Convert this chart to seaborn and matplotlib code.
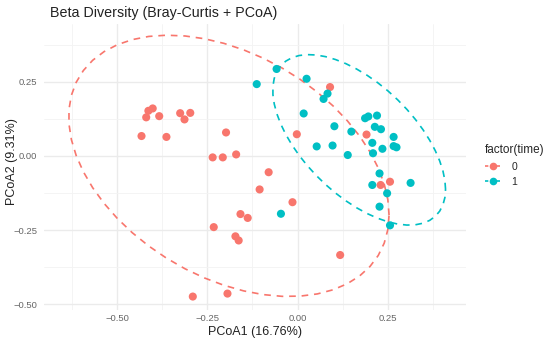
import numpy as np
import pandas as pd
import matplotlib
matplotlib.use("Agg")
import matplotlib.pyplot as plt
import seaborn as sns
from matplotlib.lines import Line2D

# PCoA scores
pc1_t0 = [-0.432, -0.419, -0.413, -0.401, -0.383, -0.363, -0.325, -0.313, -0.297, -0.198,
          -0.235, -0.207, -0.170, -0.080, -0.105, -0.002, 0.090, 0.191, 0.230, 0.256,
          -0.014, -0.158, -0.138, -0.232, -0.172, -0.163, 0.118, -0.194, -0.290]
pc2_t0 = [0.067, 0.130, 0.152, 0.160, 0.134, 0.064, 0.144, 0.123, 0.145, 0.079,
          -0.005, -0.005, 0.005, -0.055, -0.113, 0.073, 0.232, 0.072, -0.098, -0.087,
          -0.156, -0.196, -0.209, -0.240, -0.271, -0.285, -0.334, -0.464, -0.474]
pc1_t1 = [-0.058, -0.113, 0.025, 0.083, 0.072, 0.017, 0.102, 0.149, 0.053, 0.097,
          0.139, 0.187, 0.196, 0.220, 0.214, 0.231, 0.207, 0.235, 0.266, 0.266,
          0.274, 0.209, 0.227, 0.207, 0.313, 0.248, 0.227, 0.256, -0.046]
pc2_t1 = [0.293, 0.242, 0.260, 0.210, 0.192, 0.143, 0.100, 0.082, 0.032, 0.035,
          0.003, 0.127, 0.133, 0.136, 0.098, 0.090, 0.044, 0.024, 0.064, 0.033,
          0.029, 0.009, -0.059, -0.098, -0.091, -0.126, -0.171, -0.234, -0.195]

groups = ["0", "1"]
palette = {"0": "#F8766D", "1": "#00BFC4"}
x_ticks = [-0.50, -0.25, 0.00, 0.25]
y_ticks = [-0.50, -0.25, 0.00, 0.25]

df = pd.DataFrame({
    "PCoA1": pc1_t0 + pc1_t1,
    "PCoA2": pc2_t0 + pc2_t1,
    "time": ["0"] * len(pc1_t0) + ["1"] * len(pc1_t1),
})


def cov_trob(x, nu=5, maxit=25, tol=0.01):
    # MASS::cov.trob
    n, p = x.shape
    loc = x.mean(axis=0)
    w = np.ones(n)
    for _ in range(maxit):
        w0 = w
        X = x - loc
        a = np.sqrt(w / w.sum())[:, None] * X
        _, d, vt = np.linalg.svd(a, full_matrices=False)
        wX = X @ vt.T @ np.diag(1 / d)
        Q = (wX ** 2).sum(axis=1)
        w = (nu + p) / (nu + Q)
        loc = (w[:, None] * x).sum(axis=0) / w.sum()
        if np.all(np.abs(w - w0) < tol):
            break
    cov = (np.sqrt(w)[:, None] * X).T @ (np.sqrt(w)[:, None] * X) / n
    return loc, cov


def stat_ellipse(x, level=0.95, segments=51):
    n = len(x)
    dfd = n - 1
    qf = dfd / 2 * ((1 - level) ** (-2 / dfd) - 1)   # F(2, dfd) quantile
    radius = np.sqrt(2 * qf)
    center, shape = cov_trob(x)
    R = np.linalg.cholesky(shape).T
    ang = np.linspace(0, 2 * np.pi, segments + 1)
    circle = np.column_stack([np.cos(ang), np.sin(ang)])
    return center + radius * (circle @ R)


sns.set_theme(style="whitegrid")
plt.rcParams["font.family"] = ["Liberation Sans", "DejaVu Sans"]

fig = plt.figure(figsize=(5.5, 3.39), dpi=100)
ax = fig.add_axes([0.08, 0.0867, 0.767, 0.842])

for g in groups:
    sub = df[df["time"] == g]
    ell = stat_ellipse(sub[["PCoA1", "PCoA2"]].to_numpy())
    ax.plot(ell[:, 0], ell[:, 1], color=palette[g], lw=1.2, ls=(0, (4, 3.5)), zorder=2)

sns.scatterplot(data=df, x="PCoA1", y="PCoA2", hue="time", palette=palette,
                s=34, edgecolor="none", legend=False, ax=ax, zorder=3)

ax.set_xlim(-0.702, 0.466)
ax.set_ylim(-0.518, 0.444)
ax.set_xticks(x_ticks)
ax.set_yticks(y_ticks)
ax.set_xticks([-0.625, -0.375, -0.125, 0.125, 0.375], minor=True)
ax.set_yticks([-0.375, -0.125, 0.125, 0.375], minor=True)
ax.set_xticklabels([f"{v:.2f}".replace("-", "\u2212") for v in x_ticks])
ax.set_yticklabels([f"{v:.2f}".replace("-", "\u2212") for v in y_ticks])
ax.grid(which="major", color="#EBEBEB", lw=1.0)
ax.grid(which="minor", color="#F3F3F3", lw=0.6)
ax.set_facecolor("white")
for s in ax.spines.values():
    s.set_visible(False)
ax.tick_params(which="both", length=0, labelsize=6.8, labelcolor="#666666", pad=3)
ax.tick_params(axis="y", pad=5)
ax.set_xlabel("PCoA1 (16.76%)", fontsize=9, color="#222222", labelpad=2)
ax.set_ylabel("PCoA2 (9.31%)", fontsize=9, color="#222222")
ax.yaxis.set_label_coords(-0.062, 0.52)

fig.text(0.091, 1 - 13 / 339, "Beta Diversity (Bray-Curtis + PCoA)",
         fontsize=10.3, ha="left", va="center", color="#222222")

handles = [Line2D([0], [0], color=palette[g], marker="o", markersize=5.5,
                  ls=(0, (2, 1.5)), lw=1.2, markeredgewidth=0) for g in groups]
leg = fig.legend(handles, groups, title="factor(time)", loc="upper left",
                 bbox_to_anchor=(0.865, 0.602), frameon=False, fontsize=7.5,
                 title_fontsize=8.5, handlelength=1.6, handletextpad=0.9,
                 labelspacing=0.5)
leg._legend_box.align = "left"

fig.savefig("out.png", dpi=100, facecolor="white")
